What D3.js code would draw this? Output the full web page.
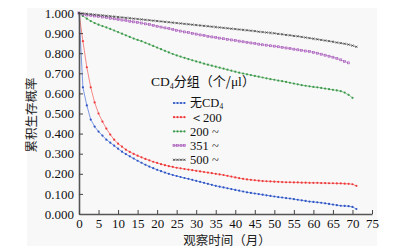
<!DOCTYPE html>
<html><head><meta charset="utf-8">
<script src="https://cdn.jsdelivr.net/npm/d3@7/dist/d3.min.js"></script>
<style>
html,body{margin:0;padding:0;background:#fff;}
svg{display:block;}
</style>
</head><body>
<svg id="chart" width="397" height="250"></svg>
<script>
// Survival probabilities read per month (index = month)
const seriesNone = [1.0,0.63,0.54,0.47,0.435,0.41,0.39,0.37,0.355,0.34,0.325,0.31,0.298,0.287,0.276,0.265,0.255,0.245,0.236,0.228,0.22,0.213,0.206,0.2,0.194,0.189,0.184,0.179,0.175,0.17,0.165,0.16,0.155,0.15,0.145,0.14,0.136,0.132,0.128,0.124,0.12,0.116,0.112,0.108,0.105,0.102,0.099,0.096,0.093,0.09,0.087,0.084,0.082,0.079,0.077,0.074,0.071,0.068,0.065,0.062,0.06,0.058,0.056,0.053,0.05,0.047,0.044,0.041,0.04,0.039,0.035,0.025];
const seriesLt200 = [1.0,0.86,0.73,0.63,0.555,0.5,0.46,0.425,0.395,0.37,0.35,0.335,0.32,0.309,0.299,0.29,0.282,0.274,0.267,0.26,0.254,0.248,0.243,0.238,0.234,0.23,0.227,0.224,0.221,0.218,0.215,0.212,0.209,0.206,0.203,0.2,0.197,0.194,0.19,0.186,0.182,0.178,0.175,0.172,0.17,0.168,0.166,0.164,0.163,0.162,0.161,0.16,0.159,0.158,0.158,0.157,0.157,0.156,0.156,0.155,0.155,0.155,0.154,0.154,0.153,0.153,0.152,0.152,0.151,0.15,0.148,0.14];
const series200 = [1.0,0.985,0.972,0.96,0.95,0.942,0.935,0.928,0.921,0.913,0.905,0.897,0.889,0.881,0.873,0.866,0.86,0.852,0.844,0.836,0.828,0.82,0.812,0.804,0.796,0.789,0.783,0.777,0.771,0.765,0.759,0.754,0.748,0.743,0.738,0.733,0.728,0.723,0.718,0.713,0.708,0.703,0.699,0.695,0.691,0.687,0.683,0.679,0.675,0.671,0.668,0.664,0.661,0.657,0.653,0.649,0.645,0.641,0.638,0.635,0.632,0.63,0.627,0.624,0.621,0.618,0.615,0.611,0.604,0.593,0.578];
const series351 = [1.0,0.993,0.99,0.988,0.985,0.983,0.98,0.977,0.974,0.971,0.968,0.965,0.962,0.959,0.956,0.953,0.95,0.946,0.942,0.938,0.934,0.93,0.926,0.922,0.918,0.914,0.91,0.906,0.902,0.898,0.895,0.891,0.888,0.884,0.881,0.878,0.875,0.872,0.869,0.866,0.863,0.86,0.857,0.854,0.851,0.848,0.845,0.842,0.84,0.837,0.835,0.832,0.829,0.826,0.823,0.82,0.817,0.814,0.811,0.808,0.804,0.8,0.795,0.79,0.785,0.78,0.774,0.767,0.758,0.752];
const series500 = [1.0,0.998,0.996,0.994,0.992,0.99,0.988,0.986,0.984,0.982,0.98,0.978,0.976,0.974,0.972,0.97,0.968,0.966,0.964,0.962,0.96,0.958,0.956,0.954,0.952,0.95,0.948,0.946,0.944,0.942,0.94,0.938,0.936,0.934,0.932,0.93,0.928,0.926,0.924,0.922,0.92,0.918,0.916,0.914,0.912,0.91,0.907,0.905,0.903,0.901,0.899,0.896,0.894,0.891,0.889,0.886,0.884,0.881,0.878,0.875,0.872,0.869,0.866,0.863,0.86,0.857,0.853,0.85,0.847,0.843,0.838,0.832];

const seriesLabels = ["无CD4", "＜200", "200 ~", "351 ~", "500 ~"];
const seriesColors = ["#2f55c4", "#ee3a3a", "#3f9a4e", "#a34fb5", "#3a3a3a"];
const seriesLineColors = ["#6f8fe0", "#f57a7a", "#7cc084", "#c08ad0", "#888888"];
const seriesMarkers = ["dot", "dot", "dot", "square", "cross"];
const xTicks = [0,5,10,15,20,25,30,35,40,45,50,55,60,65,70,75];
const yTicks = [0,0.1,0.2,0.3,0.4,0.5,0.6,0.7,0.8,0.9,1.0];
const xTitle = "观察时间（月）";
const yTitle = "累积生存概率";

const allSeries = [seriesNone, seriesLt200, series200, series351, series500];

const svg = d3.select("#chart");
const serif = "'Liberation Serif','DejaVu Serif',serif";
const cjk = "'Noto Sans CJK SC','Noto Sans',sans-serif";

svg.append("rect").attr("x",27).attr("y",8).attr("width",350).attr("height",238).attr("fill","#f8f8f8");

const x = d3.scaleLinear().domain([0,75]).range([79,372]);
const y = d3.scaleLinear().domain([0,1]).range([214,13]);

// series
const line = d3.line().x((d,i)=>x(i)).y(d=>y(d));
allSeries.forEach((s,k)=>{
  const g = svg.append("g");
  g.append("path").attr("d", line(s)).attr("fill","none")
    .attr("stroke", seriesLineColors[k]).attr("stroke-width",0.9);
  drawMarkers(g, s.map((v,i)=>[x(i), y(v)]), k);
});

function drawMarkers(g, pts, k){
  const c = seriesColors[k];
  const m = seriesMarkers[k];
  pts.forEach(([px,py])=>{
    if(m==="dot"){
      g.append("circle").attr("cx",px).attr("cy",py).attr("r",1.1).attr("fill",c);
    } else if(m==="square"){
      g.append("rect").attr("x",px-1).attr("y",py-1).attr("width",2).attr("height",2)
        .attr("fill","none").attr("stroke",c).attr("stroke-width",0.6);
    } else {
      g.append("path").attr("d",`M${px-1.1},${py-1.1}L${px+1.1},${py+1.1}M${px-1.1},${py+1.1}L${px+1.1},${py-1.1}`)
        .attr("stroke",c).attr("stroke-width",0.7);
    }
  });
}

// axes
const yAxis = d3.axisLeft(y).tickValues(yTicks).tickFormat(d3.format(".3f"))
  .tickSizeInner(-4).tickSizeOuter(0).tickPadding(5);
const gy = svg.append("g").attr("transform",`translate(${x(0)},0)`).call(yAxis);
const xAxis = d3.axisBottom(x).tickValues(xTicks).tickFormat(d3.format("d"))
  .tickSizeInner(-4).tickSizeOuter(0).tickPadding(5);
const gx = svg.append("g").attr("transform",`translate(0,${y(0)})`).call(xAxis);
[gx,gy].forEach(g=>{
  g.select(".domain").attr("stroke","#555").attr("stroke-width",1.6);
  g.selectAll(".tick line").attr("stroke","#444").attr("stroke-width",1);
  g.selectAll(".tick text").attr("font-family",serif).attr("font-size",13).attr("fill","#111");
});

// titles
svg.append("text").attr("x",227).attr("y",245).attr("text-anchor","middle")
  .attr("font-family",cjk).attr("font-size",12.5).attr("fill","#222").text(xTitle);
svg.append("text").attr("transform","translate(36,115) rotate(-90)").attr("text-anchor","middle")
  .attr("font-family",cjk).attr("font-size",12.5).attr("fill","#222").text(yTitle);

// legend
const lt = svg.append("text").attr("x",151).attr("y",86).attr("font-size",13.5).attr("fill","#111");
lt.append("tspan").attr("font-family",serif).text("CD");
lt.append("tspan").attr("font-family",serif).attr("font-size",8).attr("dy",3).text("4");
lt.append("tspan").attr("font-family",cjk).attr("font-size",13).attr("dy",-3).text("分组（个/");
lt.append("tspan").attr("font-family",serif).text("μl");
lt.append("tspan").attr("font-family",cjk).attr("font-size",13).text("）");

seriesLabels.forEach((lab,k)=>{
  const cy = 103 + k*14.2;
  const g = svg.append("g");
  g.append("line").attr("x1",173).attr("x2",185).attr("y1",cy).attr("y2",cy)
    .attr("stroke",seriesLineColors[k]).attr("stroke-width",0.9);
  drawMarkers(g, [[174,cy],[177.5,cy],[181,cy],[184.5,cy]], k);
  const t = g.append("text").attr("x",190).attr("y",cy+4.3).attr("font-size",12.5).attr("fill","#111").attr("font-family",serif);
  if(k===0){
    t.append("tspan").attr("font-family",cjk).attr("font-size",12).text("无");
    t.append("tspan").text("CD");
    t.append("tspan").attr("font-size",7.5).attr("dy",2).text("4");
  } else {
    t.text(lab);
  }
});
</script>
</body></html>
